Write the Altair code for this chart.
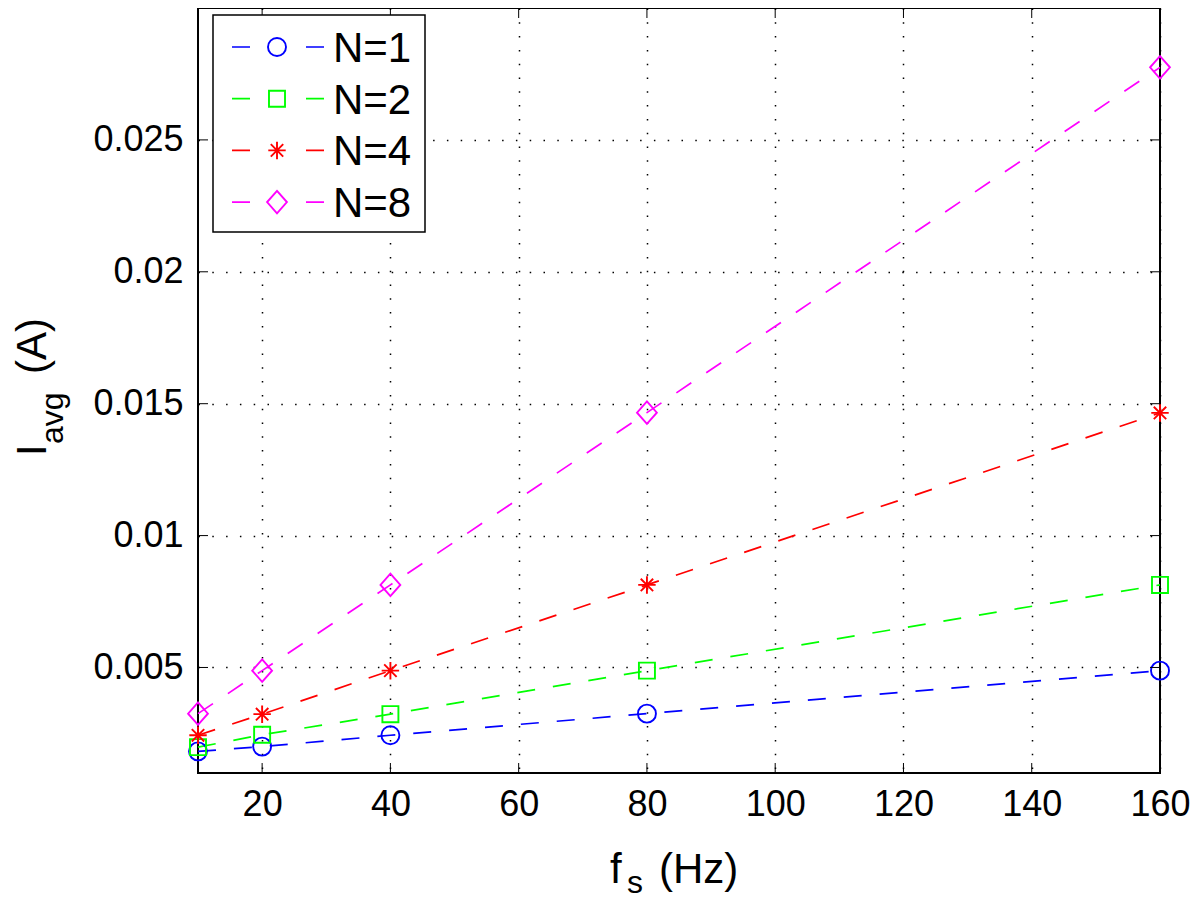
import altair as alt
import pandas as pd

# ---- data ----
freqs = [10, 20, 40, 80, 160]
series = ["N=1", "N=2", "N=4", "N=8"]
i_n1 = [0.00182, 0.00200, 0.00243, 0.00325, 0.00488]
i_n2 = [0.00198, 0.00245, 0.00323, 0.00488, 0.00813]
i_n4 = [0.00243, 0.00323, 0.00488, 0.00813, 0.01465]
i_n8 = [0.00325, 0.00488, 0.00813, 0.01466, 0.02775]
colors = ["#0000FF", "#00FF00", "#FF0000", "#FF00FF"]
x_ticks = [20, 40, 60, 80, 100, 120, 140, 160]
y_ticks = [0.005, 0.01, 0.015, 0.02, 0.025]
x_domain = [10, 160]
y_domain = [0.001, 0.03]

FONT = "Liberation Sans"
W, H = 962, 765

rows = []
for s, vals in zip(series, [i_n1, i_n2, i_n4, i_n8]):
    for f, v in zip(freqs, vals):
        rows.append({"f": f, "I": v, "N": s})
df = pd.DataFrame(rows)

shape_paths = [
    "circle",
    "M-0.89,-0.89H0.89V0.89H-0.89Z",
    "M0,-0.97V0.97M-0.97,0H0.97M-0.69,-0.69L0.69,0.69M-0.69,0.69L0.69,-0.69",
    "M0,-1.25L1.1,0L0,1.25L-1.1,0Z",
]

xs = alt.Scale(domain=x_domain, nice=False, zero=False)
ys = alt.Scale(domain=y_domain, nice=False, zero=False)
color_scale = alt.Scale(domain=series, range=colors)
shape_scale = alt.Scale(domain=series, range=shape_paths)

x_axis = alt.Axis(values=x_ticks, title=None, labelFlush=False, labelPadding=14,
                  labelOverlap=False)
y_axis = alt.Axis(values=y_ticks, title=None, format="~g", labelPadding=15,
                  labelOverlap=False)

lines = alt.Chart(df).mark_line(strokeDash=[18, 18], strokeWidth=1.7).encode(
    x=alt.X("f:Q", scale=xs, axis=x_axis),
    y=alt.Y("I:Q", scale=ys, axis=y_axis),
    color=alt.Color("N:N", scale=color_scale, legend=None),
)

points = alt.Chart(df).mark_point(filled=False, size=324, strokeWidth=1.9, opacity=1).encode(
    x=alt.X("f:Q", scale=xs, axis=x_axis),
    y=alt.Y("I:Q", scale=ys, axis=y_axis),
    color=alt.Color("N:N", scale=color_scale, legend=None),
    shape=alt.Shape("N:N", scale=shape_scale, legend=None),
)

xt = pd.DataFrame({"t": x_ticks})
yt = pd.DataFrame({"t": y_ticks})
TL = 10
tick_layers = [
    alt.Chart(xt).mark_rule(color="black", strokeWidth=1).encode(
        x=alt.X("t:Q", scale=xs, axis=x_axis), y=alt.value(H), y2=alt.value(H - TL)),
    alt.Chart(xt).mark_rule(color="black", strokeWidth=1).encode(
        x=alt.X("t:Q", scale=xs, axis=x_axis), y=alt.value(0), y2=alt.value(TL)),
    alt.Chart(yt).mark_rule(color="black", strokeWidth=1).encode(
        y=alt.Y("t:Q", scale=ys, axis=y_axis), x=alt.value(0), x2=alt.value(TL)),
    alt.Chart(yt).mark_rule(color="black", strokeWidth=1).encode(
        y=alt.Y("t:Q", scale=ys, axis=y_axis), x=alt.value(W), x2=alt.value(W - TL)),
]


def txt(s, x, y, size, angle=0):
    return alt.Chart(pd.DataFrame({"t": [s]})).mark_text(
        align="left", baseline="alphabetic", fontSize=size, font=FONT,
        color="black", angle=angle,
    ).encode(text="t:N", x=alt.value(x), y=alt.value(y))


# legend
legend_layers = [
    alt.Chart(pd.DataFrame({"a": [0]})).mark_rect(
        fill="white", stroke="black", strokeWidth=1.5).encode(
        x=alt.value(15), x2=alt.value(227), y=alt.value(7), y2=alt.value(224))
]
for i, (s, c, shp) in enumerate(zip(series, colors, shape_paths)):
    ry = 39 + i * 51.7
    legend_layers.append(
        alt.Chart(pd.DataFrame({"a": [0]})).mark_rule(
            strokeDash=[18, 56], strokeWidth=1.7, color=c).encode(
            x=alt.value(34), x2=alt.value(126), y=alt.value(ry)))
    legend_layers.append(
        alt.Chart(pd.DataFrame({"a": [0]})).mark_point(
            shape=shp, size=324, filled=False, strokeWidth=1.9, color=c, opacity=1).encode(
            x=alt.value(79), y=alt.value(ry)))
    legend_layers.append(txt(s, 135, ry + 15, 42))

# axis titles with subscripts
title_layers = [
    txt("f", 412, 875, 42),
    txt("s", 429, 885, 32),
    txt("(Hz)", 461, 875, 42),
    txt("I", -152, 448, 42, angle=270),
    txt("avg", -135, 436, 32, angle=270),
    txt("(A)", -152, 366, 42, angle=270),
]

chart = alt.layer(lines, points, *tick_layers, *legend_layers, *title_layers).properties(
    width=W, height=H,
    autosize=alt.AutoSizeParams(type="none"),
    padding={"left": 190, "top": 0, "right": 32, "bottom": 128},
    background="white",
).configure_view(
    stroke="black", strokeWidth=2
).configure_axis(
    labelFont=FONT, labelFontSize=36, labelColor="black",
    domain=False, ticks=False, tickSize=0,
    grid=True, gridColor="black", gridDash=[1.5, 12.3], gridWidth=1.5, gridOpacity=1,
)

chart.save("out.html", embed_options={"renderer": "svg", "actions": False})
